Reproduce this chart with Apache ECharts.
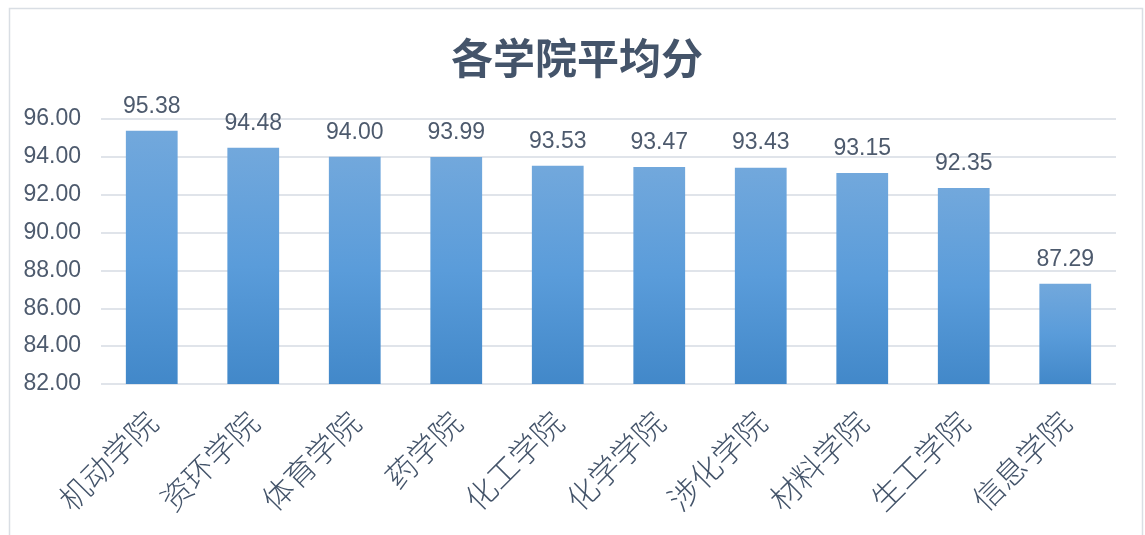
<!DOCTYPE html>
<html>
<head>
<meta charset="utf-8">
<script src="https://cdn.jsdelivr.net/npm/echarts@6/dist/echarts.min.js"></script>
<style>
  html, body { margin: 0; padding: 0; background: #fff; }
  #main { width: 1145px; height: 535px; }
</style>
</head>
<body>
<div id="main"></div>
<script>
// 学院名称 (x轴)
var colleges = ['机动学院', '资环学院', '体育学院', '药学院', '化工学院', '化学学院', '涉化学院', '材料学院', '生工学院', '信息学院'];
// 平均分
var avgScores = [95.38, 94.48, 94.00, 93.99, 93.53, 93.47, 93.43, 93.15, 92.35, 87.29];
// y轴刻度
var yMin = 82, yMax = 96, yStep = 2;

var textColor = '#44546a';
var chart = echarts.init(document.getElementById('main'));
chart.setOption({
  animation: false,
  title: {
    text: '各学院平均分',
    left: 446,
    top: 32,
    textStyle: {
      fontFamily: 'Noto Sans CJK SC',
      fontSize: 42,
      fontWeight: 'bold',
      color: textColor
    }
  },
  // 外框
  graphic: [{
    type: 'rect',
    shape: { x: 9.5, y: 8.5, width: 1133, height: 540 },
    style: { fill: 'none', stroke: '#d9dee4', lineWidth: 1.5 },
    silent: true
  }],
  grid: {
    left: 101,
    right: 29,
    top: 119,
    bottom: 151,
    containLabel: false
  },
  xAxis: {
    type: 'category',
    data: colleges,
    axisLine: { show: false },
    axisTick: { show: false },
    axisLabel: {
      rotate: 45,
      margin: 33,
      interval: 0,
      fontFamily: 'Noto Sans CJK SC',
      fontSize: 31,
      fontWeight: 300,
      color: textColor
    }
  },
  yAxis: {
    type: 'value',
    min: yMin,
    max: yMax,
    interval: yStep,
    axisLine: { show: false },
    axisTick: { show: false },
    axisLabel: {
      margin: 20,
      fontFamily: 'Liberation Sans',
      fontSize: 23,
      color: '#4d5a6d',
      formatter: function (v) { return v.toFixed(2); }
    },
    splitLine: { lineStyle: { color: '#e0e4ea', width: 2 } }
  },
  series: [{
    type: 'bar',
    data: avgScores,
    barWidth: '51%',
    itemStyle: {
      color: {
        type: 'linear', x: 0, y: 0, x2: 0, y2: 1,
        colorStops: [
          { offset: 0, color: '#72a8dc' },
          { offset: 0.5, color: '#5a9cda' },
          { offset: 1, color: '#4288c9' }
        ],
        global: false
      }
    },
    label: {
      show: true,
      position: 'top',
      distance: 13,
      fontFamily: 'Liberation Sans',
      fontSize: 23,
      color: '#4d5a6d',
      formatter: function (p) { return p.value.toFixed(2); }
    }
  }]
});
</script>
</body>
</html>
